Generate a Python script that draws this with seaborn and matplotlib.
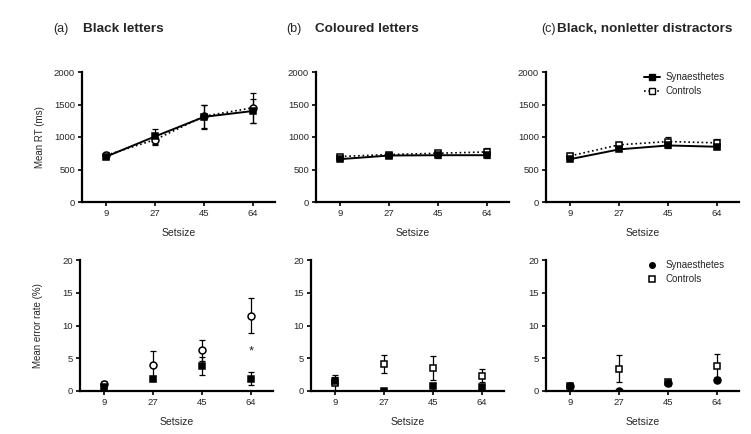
import numpy as np
import matplotlib
matplotlib.use('Agg')
import matplotlib.pyplot as plt
from matplotlib.lines import Line2D
import seaborn as sns

sns.set_style('ticks')
plt.rcParams['font.family'] = ['Liberation Sans', 'DejaVu Sans']

# ── Data ────────────────────────────────────────────────────
setsizes = ['9', '27', '45', '64']
panel_letters = ['(a)', '(b)', '(c)']
panel_titles = ['Black letters', 'Coloured letters', 'Black, nonletter distractors']

# mean RT (ms) and error bars
rt_syn = [[700, 1010, 1310, 1400],
          [660, 715, 720, 720],
          [660, 810, 870, 850]]
rt_syn_err = [[40, 110, 190, 190],
              [30, 30, 40, 40],
              [30, 30, 40, 40]]
rt_ctrl = [[720, 960, 1320, 1450],
           [700, 730, 750, 770],
           [710, 880, 930, 910]]
rt_ctrl_err = [[50, 80, 180, 230],
               [30, 30, 40, 60],
               [40, 50, 70, 60]]

# mean error rate (%) and error bars
er_syn = [[0.6, 1.9, 3.8, 1.9],
          [1.5, 0.0, 0.7, 0.6],
          [0.8, 0.0, 1.2, 1.7]]
er_syn_err = [[0.4, 0.4, 1.4, 1.0],
              [0.6, 0.0, 0.5, 0.3],
              [0.3, 0.0, 0.4, 0.4]]
er_ctrl = [[1.0, 4.0, 6.2, 11.5],
           [1.2, 4.1, 3.5, 2.3],
           [0.8, 3.4, 1.3, 3.8]]
er_ctrl_err = [[0.6, 2.1, 1.6, 2.7],
               [1.2, 1.4, 1.8, 1.0],
               [0.3, 2.1, 0.4, 1.9]]

# marker shapes per panel: (synaesthetes, controls)
rt_markers = [('s', 'o'), ('s', 's'), ('s', 's')]
er_markers = [('s', 'o'), ('s', 's'), ('o', 's')]

# ── Layout ──────────────────────────────────────────────────
W, H = 751, 434
fig = plt.figure(figsize=(W / 100, H / 100), dpi=100)

top_lefts = [82, 316, 546]
bot_lefts = [80, 311, 546]
ax_w = 193


def style_axis(ax, ylim, yticks, ylabel):
    ax.set_xlim(-0.5, 3.45)
    ax.set_ylim(*ylim)
    ax.set_yticks(yticks)
    ax.set_xticks(range(len(setsizes)))
    ax.set_xticklabels(setsizes)
    for side in ['top', 'right']:
        ax.spines[side].set_visible(False)
    for side in ['left', 'bottom']:
        ax.spines[side].set_linewidth(1.6)
        ax.spines[side].set_color('black')
    ax.tick_params(axis='both', width=1.2, length=3, labelsize=6.8,
                   pad=2, color='black')
    ax.set_xlabel('Setsize', fontsize=7.5)
    ax.xaxis.set_label_coords(0.5, -0.2)
    ax.set_ylabel(ylabel, fontsize=7)
    ax.yaxis.set_label_coords(-0.19, 0.5)


def draw_group(ax, vals, errs, marker, filled, ls):
    x = np.arange(len(setsizes))
    ax.errorbar(x, vals, yerr=errs, fmt='none', ecolor='black',
                elinewidth=0.9, capsize=2.5, capthick=0.9, zorder=1)
    sns.pointplot(x=setsizes, y=vals, order=setsizes, color='black',
                  markers=marker, linestyles=ls, errorbar=None, ax=ax,
                  markersize=5, linewidth=1.4 if ls == '-' else 1.2,
                  markerfacecolor='black' if filled else 'white',
                  markeredgewidth=1.1, zorder=3)


for i in range(3):
    # top row: reaction times
    ax = fig.add_axes([top_lefts[i] / W, 232 / H, ax_w / W, 130 / H])
    draw_group(ax, rt_ctrl[i], rt_ctrl_err[i], rt_markers[i][1], False, ':')
    draw_group(ax, rt_syn[i], rt_syn_err[i], rt_markers[i][0], True, '-')
    style_axis(ax, (0, 2000), [0, 500, 1000, 1500, 2000],
               'Mean RT (ms)' if i == 0 else '')
    if i == 2:
        handles = [Line2D([], [], color='black', lw=1.4, marker='s',
                          markersize=4, markerfacecolor='black'),
                   Line2D([], [], color='black', lw=1.2, ls=':', marker='s',
                          markersize=4.5, markerfacecolor='white')]
        ax.legend(handles, ['Synaesthetes', 'Controls'], loc='upper left',
                  bbox_to_anchor=(0.49, 1.03), frameon=False, fontsize=7,
                  handlelength=1.6, handletextpad=0.6, labelspacing=0.45,
                  borderaxespad=0)

    # bottom row: error rates
    ax = fig.add_axes([bot_lefts[i] / W, 43 / H, ax_w / W, 131 / H])
    draw_group(ax, er_ctrl[i], er_ctrl_err[i], er_markers[i][1], False, 'none')
    draw_group(ax, er_syn[i], er_syn_err[i], er_markers[i][0], True, 'none')
    style_axis(ax, (0, 20), [0, 5, 10, 15, 20],
               'Mean error rate (%)' if i == 0 else '')
    if i == 0:
        ax.text(3, 6.0, '*', ha='center', va='center', fontsize=9.5)
    if i == 2:
        handles = [Line2D([], [], color='black', ls='none', marker='o',
                          markersize=4, markerfacecolor='black'),
                   Line2D([], [], color='black', ls='none', marker='s',
                          markersize=4.5, markerfacecolor='white',
                          markeredgewidth=1.1)]
        ax.legend(handles, ['Synaesthetes', 'Controls'], loc='upper left',
                  bbox_to_anchor=(0.49, 1.03), frameon=False, fontsize=7,
                  handlelength=1.6, handletextpad=0.6, labelspacing=0.45,
                  borderaxespad=0)

# panel titles
letter_x = [53, 286, 541]
title_x = [83, 315, 557]
for i in range(3):
    fig.text(letter_x[i] / W, 1 - 29 / H, panel_letters[i], fontsize=9,
             va='center', ha='left')
    fig.text(title_x[i] / W, 1 - 29 / H, panel_titles[i], fontsize=9.7,
             fontweight='bold', va='center', ha='left')

fig.savefig('out.png', dpi=100, facecolor='white')
